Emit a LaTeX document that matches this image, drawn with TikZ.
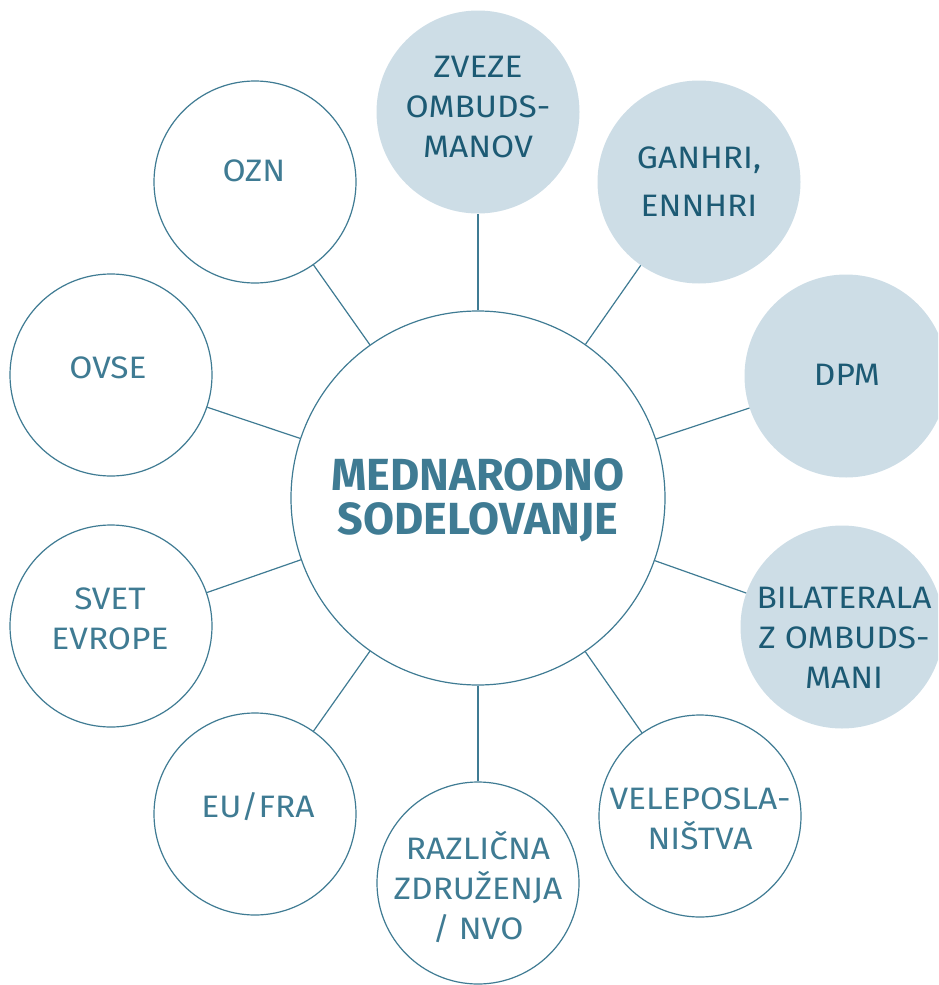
\documentclass[tikz,border=0pt]{standalone}
\usepackage{fontspec}
\setmainfont{Fira Sans}
\newfontfamily\labelfont[FakeStretch=1.08]{Fira Sans}
\definecolor{tc}{HTML}{3F7B93}
\definecolor{fc}{HTML}{CDDDE6}
\definecolor{dt}{HTML}{1C5A74}
\begin{document}
\begin{tikzpicture}[x=1pt,y=-1pt,
  outer/.style={circle,draw=tc,line width=1.2pt,fill=white,minimum size=202pt,inner sep=0pt},
  filled/.style={circle,fill=fc,minimum size=203pt,inner sep=0pt},
  hub/.style={circle,draw=tc,line width=1.2pt,minimum size=374pt,inner sep=0pt},
  otext/.style={inner sep=0pt,text=tc,align=center,font=\labelfont\fontsize{31}{40}\selectfont},
  ftext/.style={otext,text=dt},
  htext/.style={inner sep=0pt,text=tc,align=center,font=\bfseries\fontsize{45}{44}\selectfont},
  link/.style={draw=tc,line width=1.2pt}]
\useasboundingbox (0,0) rectangle (938,985);
\begin{scope}
\clip (0,0) rectangle (938,985);
\node[hub] (c) at (478,498) {};
\node[outer] (ozn) at (255,182) {};
\node[filled] (zveze) at (478,112) {};
\node[filled] (ganhri) at (699,182) {};
\node[filled] (dpm) at (846,376) {};
\node[filled] (bilat) at (842,627) {};
\node[outer] (vele) at (700,816) {};
\node[outer] (razl) at (478,883) {};
\node[outer] (eu) at (255,814) {};
\node[outer] (svet) at (111,626) {};
\node[outer] (ovse) at (111,375) {};
\foreach \n in {ozn,zveze,ganhri,dpm,bilat,vele,razl,eu,svet,ovse}
  \draw[link] (c) -- (\n);
\node[htext] (tc) at (478,500) {MEDNARODNO\\SODELOVANJE};
\node[otext] (tozn) at (254,171) {OZN};
\node[ftext] (tzveze) at (478,107) {ZVEZE\\OMBUDS-\\MANOV};
\node[ftext] (tganhri) at (699,182) {GANHRI,\\[8pt]ENNHRI};
\node[ftext] (tdpm) at (847,375) {DPM};
\node[ftext] (tbilat) at (844,638) {BILATERALA\\Z OMBUDS-\\MANI};
\node[otext] (tvele) at (700,819) {VELEPOSLA-\\NIŠTVA};
\node[otext] (trazl) at (478,887) {RAZLIČNA\\ZDRUŽENJA\\/ NVO};
\node[otext] (teu) at (258,807) {EU/FRA};
\node[otext] (tsvet) at (110,619) {SVET\\EVROPE};
\node[otext] (tovse) at (108,368) {OVSE};
\end{scope}
\end{tikzpicture}
\end{document}
